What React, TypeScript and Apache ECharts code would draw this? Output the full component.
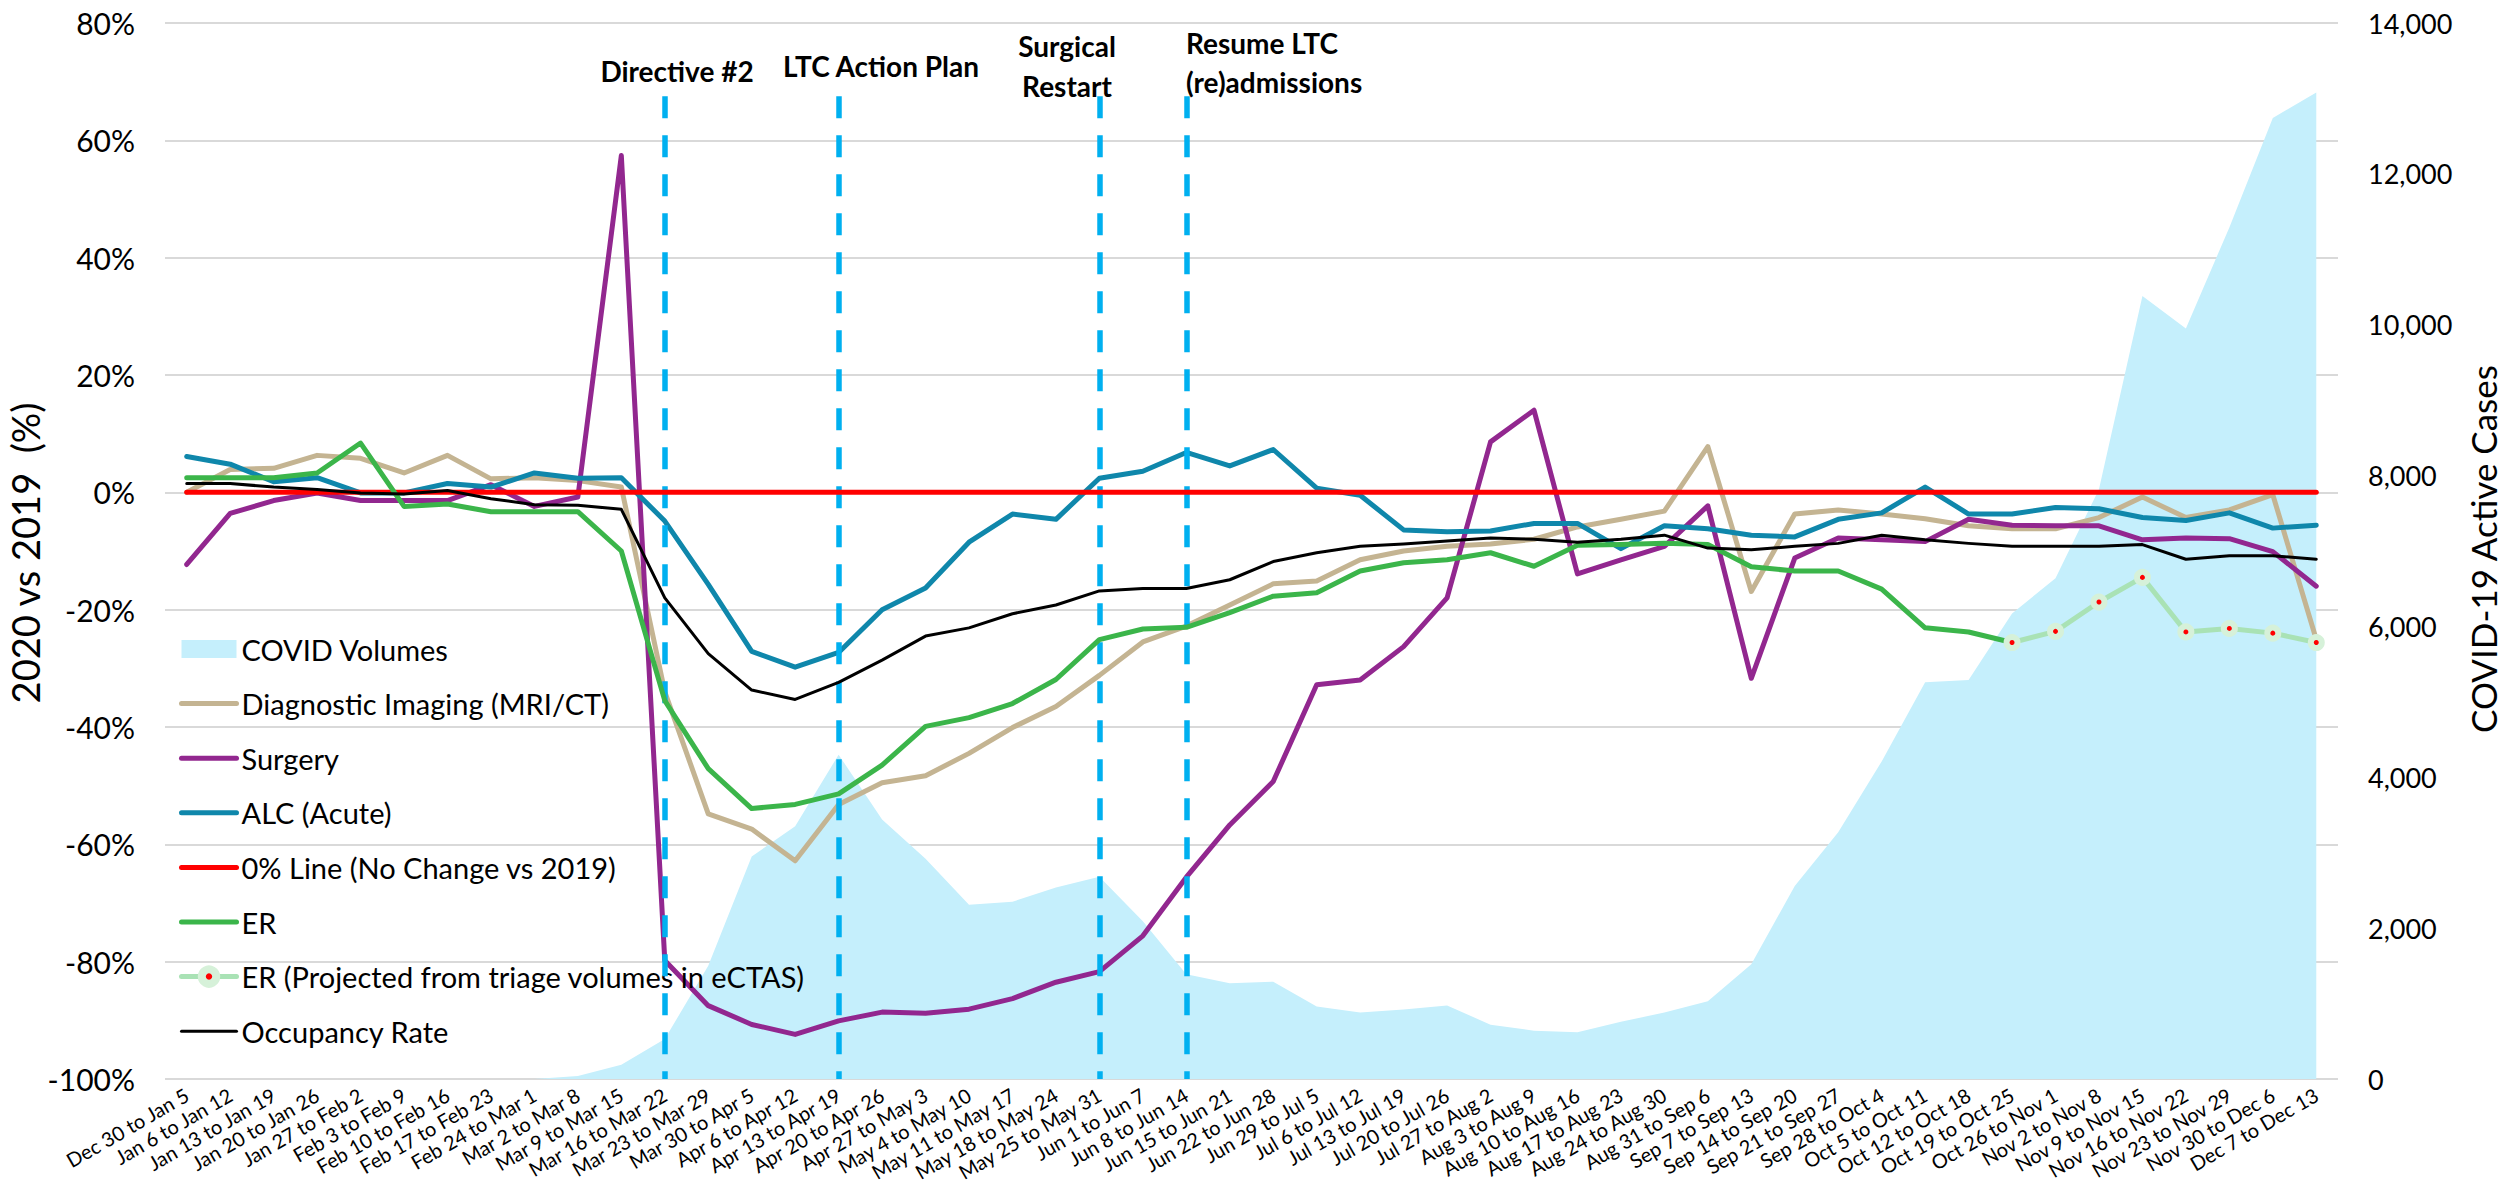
import React, { useEffect, useRef } from 'react';
import * as echarts from 'echarts';

const categories = [
  'Dec 30 to Jan 5', 'Jan 6 to Jan 12', 'Jan 13 to Jan 19', 'Jan 20 to Jan 26', 'Jan 27 to Feb 2',
  'Feb 3 to Feb 9', 'Feb 10 to Feb 16', 'Feb 17 to Feb 23', 'Feb 24 to Mar 1', 'Mar 2 to Mar 8',
  'Mar 9 to Mar 15', 'Mar 16 to Mar 22', 'Mar 23 to Mar 29', 'Mar 30 to Apr 5', 'Apr 6 to Apr 12',
  'Apr 13 to Apr 19', 'Apr 20 to Apr 26', 'Apr 27 to May 3', 'May 4 to May 10', 'May 11 to May 17',
  'May 18 to May 24', 'May 25 to May 31', 'Jun 1 to Jun 7', 'Jun 8 to Jun 14', 'Jun 15 to Jun 21',
  'Jun 22 to Jun 28', 'Jun 29 to Jul 5', 'Jul 6 to Jul 12', 'Jul 13 to Jul 19', 'Jul 20 to Jul 26',
  'Jul 27 to Aug 2', 'Aug 3 to Aug 9', 'Aug 10 to Aug 16', 'Aug 17 to Aug 23', 'Aug 24 to Aug 30',
  'Aug 31 to Sep 6', 'Sep 7 to Sep 13', 'Sep 14 to Sep 20', 'Sep 21 to Sep 27', 'Sep 28 to Oct 4',
  'Oct 5 to Oct 11', 'Oct 12 to Oct 18', 'Oct 19 to Oct 25', 'Oct 26 to Nov 1', 'Nov 2 to Nov 8',
  'Nov 9 to Nov 15', 'Nov 16 to Nov 22', 'Nov 23 to Nov 29', 'Nov 30 to Dec 6', 'Dec 7 to Dec 13',
];

const covidVolumes = [
  0, 0, 0, 0, 0, 0, 0, 0, 0, 40,
  190, 530, 1500, 2950, 3350, 4300, 3440, 2920, 2310, 2350,
  2540, 2680, 2090, 1390, 1270, 1290, 960, 880, 920, 975,
  720, 640, 620, 760, 880, 1030, 1520, 2560, 3270, 4210,
  5260, 5290, 6170, 6640, 7820, 10380, 9950, 11290, 12740, 13080,
];

const diagnosticImaging = [
  0, 3.9, 4.1, 6.3, 5.8, 3.3, 6.3, 2.3, 2.5, 2.0,
  0.9, -34.0, -54.8, -57.4, -62.8, -53.2, -49.5, -48.3, -44.5, -40.1,
  -36.5, -31.2, -25.5, -22.8, -19.2, -15.6, -15.1, -11.5, -10.0, -9.2,
  -8.8, -8.0, -5.9, -4.6, -3.2, 7.8, -16.9, -3.7, -3.0, -3.7,
  -4.5, -5.7, -6.2, -6.2, -4.3, -0.8, -4.3, -3.0, -0.4, -25.1,
];

const surgery = [
  -12.3, -3.6, -1.4, -0.1, -1.4, -1.4, -1.4, 1.3, -2.4, -0.8,
  57.4, -79.8, -87.5, -90.7, -92.4, -90.1, -88.6, -88.8, -88.1, -86.3,
  -83.5, -81.7, -75.6, -65.6, -56.7, -49.3, -32.8, -32.0, -26.3, -18.0,
  8.6, 14.0, -13.9, -11.5, -9.2, -2.3, -31.7, -11.2, -7.8, -8.1,
  -8.4, -4.6, -5.6, -5.7, -5.7, -8.1, -7.8, -7.9, -10.1, -16.0,
];

const alcAcute = [
  6.1, 4.8, 1.8, 2.5, -0.1, -0.1, 1.5, 0.9, 3.3, 2.4,
  2.5, -4.9, -15.7, -27.1, -29.8, -27.3, -20.0, -16.3, -8.5, -3.7,
  -4.6, 2.4, 3.6, 6.8, 4.5, 7.3, 0.7, -0.5, -6.4, -6.7,
  -6.6, -5.3, -5.3, -9.6, -5.7, -6.2, -7.3, -7.6, -4.6, -3.5,
  0.9, -3.7, -3.7, -2.6, -2.8, -4.3, -4.8, -3.5, -6.1, -5.6,
];

const zeroLine = categories.map(() => 0);

const er = [
  2.5, 2.5, 2.5, 3.3, 8.4, -2.4, -2.0, -3.3, -3.3, -3.3,
  -10.0, -35.5, -47.1, -53.9, -53.2, -51.4, -46.5, -39.9, -38.4, -36.0,
  -31.9, -25.1, -23.3, -23.0, -20.5, -17.7, -17.1, -13.4, -12.0, -11.5,
  -10.3, -12.6, -9.0, -8.9, -8.7, -8.9, -12.7, -13.4, -13.4, -16.5,
  -23.1, -23.8, -25.6, null, null, null, null, null, null, null,
];

const erProjected = [
  null, null, null, null, null, null, null, null, null, null,
  null, null, null, null, null, null, null, null, null, null,
  null, null, null, null, null, null, null, null, null, null,
  null, null, null, null, null, null, null, null, null, null,
  null, null, -25.6, -23.7, -18.7, -14.5, -23.8, -23.2, -24.0, -25.6,
];

const occupancy = [
  1.5, 1.5, 0.9, 0.5, -0.1, -0.3, 0.3, -1.1, -2.1, -2.2,
  -2.9, -18.0, -27.5, -33.7, -35.3, -32.4, -28.6, -24.5, -23.1, -20.7,
  -19.2, -16.8, -16.4, -16.4, -14.9, -11.8, -10.3, -9.2, -8.8, -8.3,
  -7.8, -8.0, -8.5, -8.0, -7.3, -9.5, -9.8, -9.2, -8.7, -7.3,
  -8.1, -8.7, -9.2, -9.2, -9.2, -8.9, -11.4, -10.8, -10.8, -11.4,
];

const eventWeeks = ['Mar 16 to Mar 22', 'Apr 13 to Apr 19', 'May 25 to May 31', 'Jun 8 to Jun 14'];

const FONT = 'Lato, "Noto Sans", sans-serif';
const C = {
  area: '#C5EFFC',
  di: '#C4B492',
  surgery: '#92278F',
  alc: '#0F87AB',
  zero: '#FF0000',
  er: '#3BB54A',
  proj: '#A9E2B5',
  projRing: '#D6F1D9',
  occ: '#000000',
  event: '#00B0F0',
  grid: '#D9D9D9',
};

function lineSeries(name: string, data: (number | null)[], color: string, width: number, z: number) {
  return {
    name,
    type: 'line',
    data,
    yAxisIndex: 0,
    symbol: 'none',
    showSymbol: false,
    z,
    lineStyle: { color, width, cap: 'round', join: 'round' },
    itemStyle: { color },
    emphasis: { disabled: true },
  };
}

const hiddenSymbol = { opacity: 0 };

export default function App() {
  const ref = useRef<HTMLDivElement>(null);

  useEffect(() => {
    document.body.style.margin = '0';
    const chart = echarts.init(ref.current!, null, { renderer: 'svg' });
    const textBase = { fontFamily: FONT, color: '#000' };
    const annot = { fontFamily: FONT, fontWeight: 'bold', fontSize: 28, fill: '#000', verticalAlign: 'middle' };

    const option: any = {
      animation: false,
      backgroundColor: '#ffffff',
      grid: { left: 165, right: 171, top: 23, bottom: 107, containLabel: false },
      legend: {
        orient: 'vertical',
        left: 174,
        top: 629,
        itemWidth: 55,
        itemHeight: 18,
        itemGap: 24.6,
        selectedMode: false,
        lineStyle: { width: 'inherit' },
        textStyle: { ...textBase, fontSize: 29, lineHeight: 30 },
        data: [
          { name: 'COVID Volumes', icon: 'rect', itemStyle: { color: C.area, opacity: 1 } },
          { name: 'Diagnostic Imaging (MRI/CT)', itemStyle: hiddenSymbol },
          { name: 'Surgery', itemStyle: hiddenSymbol },
          { name: 'ALC (Acute)', itemStyle: hiddenSymbol },
          { name: '0% Line (No Change vs 2019)', itemStyle: hiddenSymbol },
          { name: 'ER', itemStyle: hiddenSymbol },
          {
            name: 'ER (Projected from triage volumes in eCTAS)',
            itemStyle: { color: '#FF0000', borderColor: C.projRing, borderWidth: 8, opacity: 1 },
          },
          { name: 'Occupancy Rate', itemStyle: hiddenSymbol },
        ],
      },
      xAxis: {
        type: 'category',
        data: categories,
        boundaryGap: true,
        axisLine: { show: false },
        axisTick: { show: false },
        axisLabel: { ...textBase, interval: 0, rotate: 30, fontSize: 20, margin: 14 },
      },
      yAxis: [
        {
          type: 'value',
          min: -100,
          max: 80,
          interval: 20,
          position: 'left',
          axisLine: { show: false },
          axisTick: { show: false },
          splitLine: { lineStyle: { color: C.grid, width: 2 } },
          axisLabel: { ...textBase, fontSize: 30, margin: 30, formatter: '{value}%' },
        },
        {
          type: 'value',
          min: 0,
          max: 14000,
          interval: 2000,
          position: 'right',
          axisLine: { show: false },
          axisTick: { show: false },
          splitLine: { show: false },
          axisLabel: {
            ...textBase,
            fontSize: 27,
            margin: 30,
            formatter: (v: number) => v.toLocaleString('en-US'),
          },
        },
      ],
      series: [
        {
          name: 'COVID Volumes',
          type: 'line',
          yAxisIndex: 1,
          data: covidVolumes,
          symbol: 'none',
          showSymbol: false,
          z: 1,
          lineStyle: { width: 0, color: C.area },
          itemStyle: { color: C.area },
          areaStyle: { color: C.area, opacity: 1 },
          emphasis: { disabled: true },
        },
        lineSeries('Diagnostic Imaging (MRI/CT)', diagnosticImaging, C.di, 5, 2),
        lineSeries('Surgery', surgery, C.surgery, 5, 3),
        lineSeries('ALC (Acute)', alcAcute, C.alc, 5, 4),
        lineSeries('0% Line (No Change vs 2019)', zeroLine, C.zero, 5, 5),
        lineSeries('ER', er, C.er, 5, 6),
        {
          name: 'ER (Projected from triage volumes in eCTAS)',
          type: 'line',
          yAxisIndex: 0,
          data: erProjected,
          symbol: 'circle',
          symbolSize: 11,
          showSymbol: true,
          z: 7,
          lineStyle: { color: C.proj, width: 5, cap: 'round', join: 'round' },
          itemStyle: { color: '#FF0000', borderColor: C.projRing, borderWidth: 6 },
          emphasis: { disabled: true },
        },
        lineSeries('Occupancy Rate', occupancy, C.occ, 3, 8),
        {
          name: 'events',
          type: 'line',
          data: [],
          z: 10,
          markLine: {
            silent: true,
            symbol: 'none',
            label: { show: false },
            lineStyle: { color: C.event, width: 5.5, type: [22, 17], cap: 'butt' },
            data: eventWeeks.map((w) => [
              { xAxis: w, yAxis: 67.5 },
              { xAxis: w, yAxis: -100 },
            ]),
          },
        },
      ],
      graphic: [
        {
          type: 'text', x: 25, y: 553, rotation: Math.PI / 2, z: 20,
          style: { text: '2020 vs 2019  (%)', fontFamily: FONT, fontSize: 38, fill: '#000', align: 'center', verticalAlign: 'middle' },
        },
        {
          type: 'text', x: 2483, y: 549, rotation: Math.PI / 2, z: 20,
          style: { text: 'COVID-19 Active Cases', fontFamily: FONT, fontSize: 35, fill: '#000', align: 'center', verticalAlign: 'middle' },
        },
        { type: 'text', x: 677, y: 71, z: 20, style: { ...annot, text: 'Directive #2', align: 'center' } },
        { type: 'text', x: 881, y: 66, z: 20, style: { ...annot, text: 'LTC Action Plan', align: 'center' } },
        { type: 'text', x: 1067, y: 66, z: 20, style: { ...annot, text: 'Surgical\nRestart', lineHeight: 40, align: 'center' } },
        { type: 'text', x: 1186, y: 62, z: 20, style: { ...annot, text: 'Resume LTC\n(re)admissions', lineHeight: 39, align: 'left' } },
      ],
    };

    chart.setOption(option);
    return () => chart.dispose();
  }, []);

  return (
    <div
      ref={ref}
      style={{ position: 'absolute', left: 0, top: 0, width: 2509, height: 1186, background: '#fff' }}
    />
  );
}
